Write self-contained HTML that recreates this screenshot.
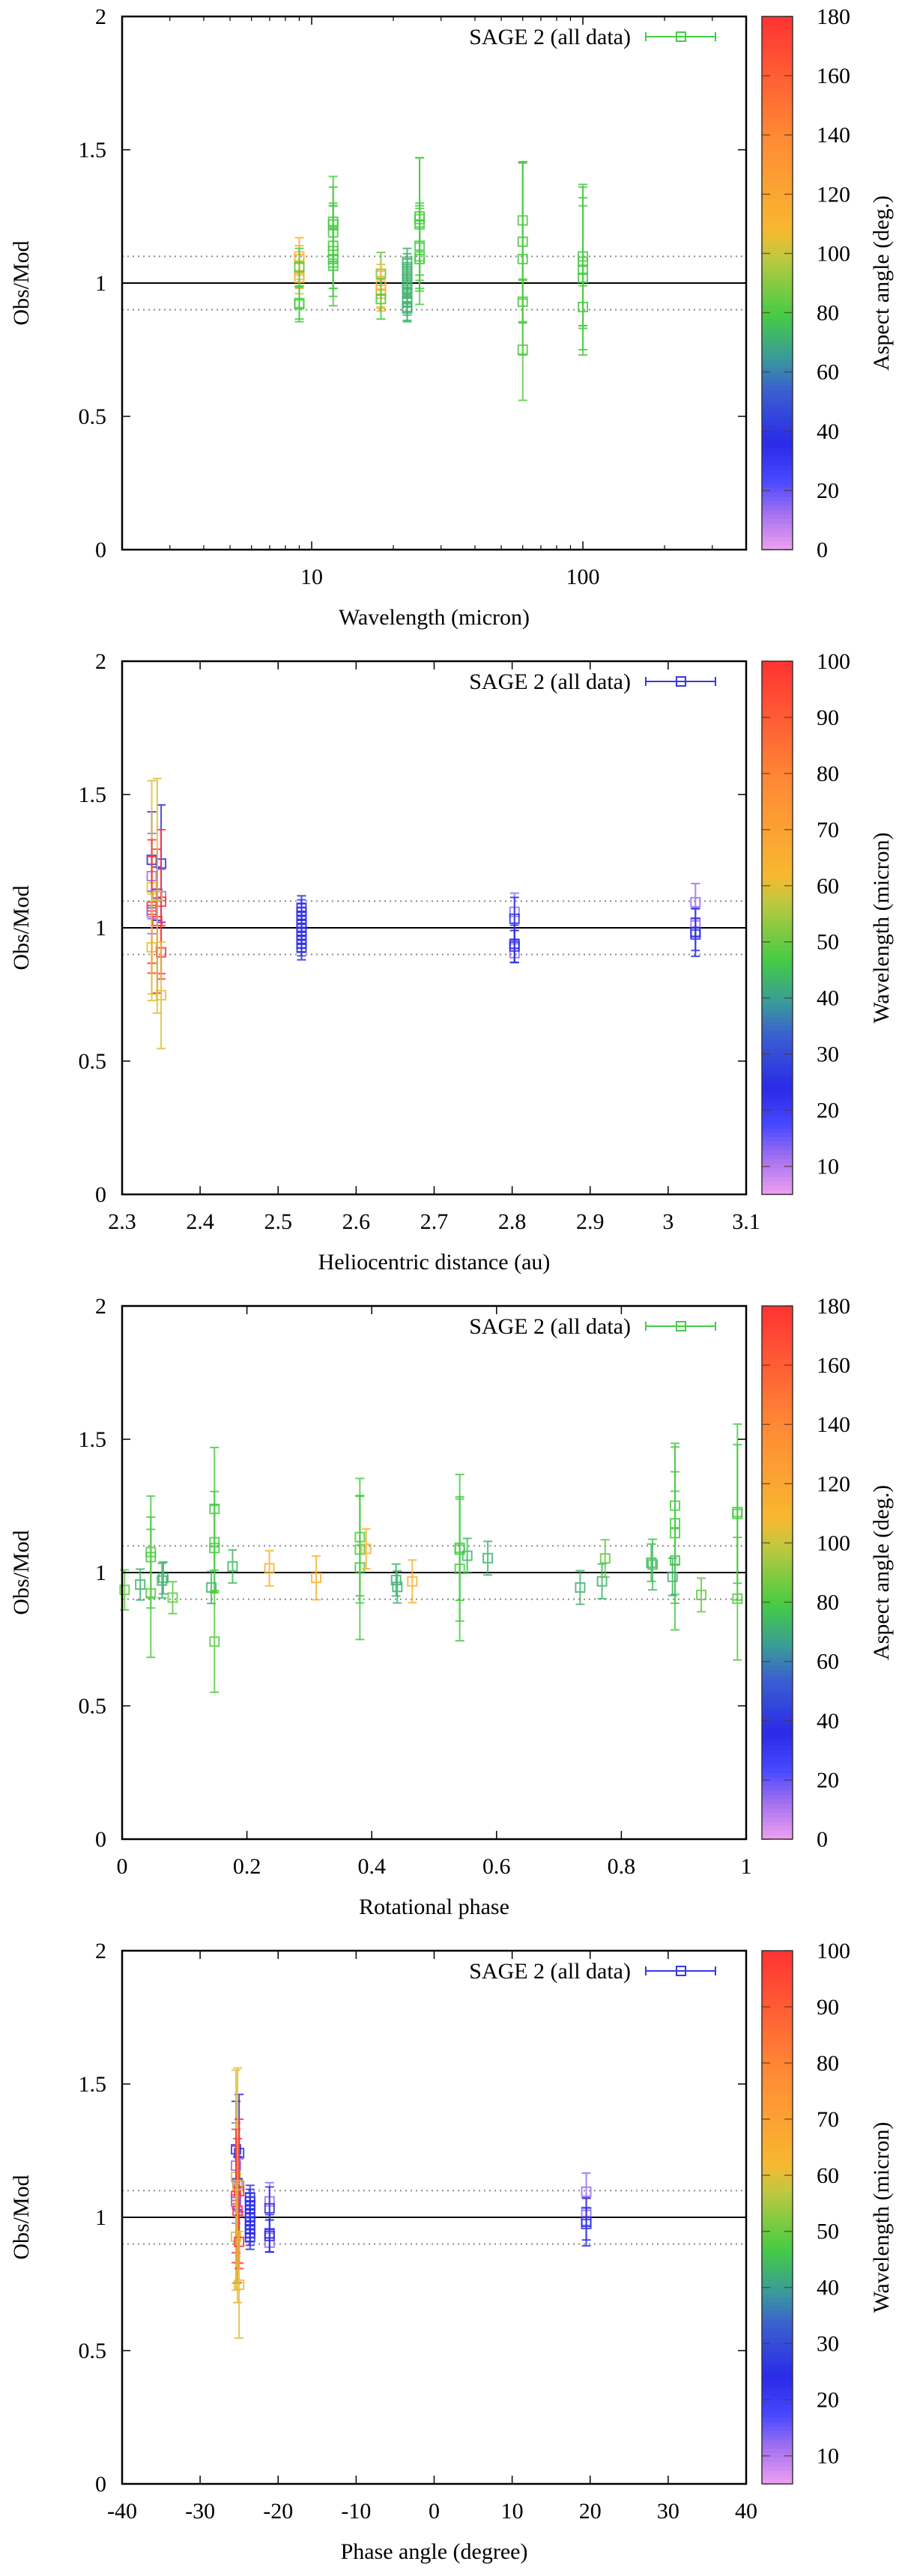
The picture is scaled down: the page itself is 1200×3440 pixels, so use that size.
<!DOCTYPE html>
<html><head><meta charset="utf-8">
<style>
html,body{margin:0;padding:0;background:#fff;}
svg{display:block;font-family:"Liberation Serif","DejaVu Serif",serif;}
svg text{font-family:"Liberation Serif","DejaVu Serif",serif;}
</style></head>
<body>
<svg id="fig" width="1200" height="3440" viewBox="0 0 1200 3440" xmlns="http://www.w3.org/2000/svg"></svg>
<script>
// ---------- Panel 1: wavelength vs obs/mod, colour = aspect angle ----------
const p1Wave  = [9,9,9,9,9,9,9, 12,12,12,12,12,12,12, 18,18,18,18,18, 22.5,22.5,22.5,22.5,22.5,22.5,22.5,22.5,22.5,22.5, 25,25,25,25,25,25, 60,60,60,60,60, 100,100,100,100,100];
const p1Ratio = [1.10,1.09,1.02,1.03,1.06,0.92,0.925, 1.23,1.22,1.19,1.14,1.12,1.09,1.065, 1.035,0.99,0.975,0.96,0.94, 1.08,1.06,1.04,1.02,1.00,0.98,0.96,0.93,0.91,0.905, 1.25,1.24,1.22,1.14,1.10,1.09, 1.235,1.155,1.09,0.93,0.75, 1.10,1.08,1.05,1.02,0.91];
const p1Err   = [0.07,0.05,0.06,0.05,0.07,0.065,0.06, 0.17,0.14,0.10,0.16,0.17,0.11,0.15, 0.08,0.08,0.07,0.065,0.075, 0.05,0.05,0.05,0.05,0.05,0.05,0.05,0.05,0.05,0.05, 0.22,0.23,0.07,0.16,0.18,0.12, 0.22,0.30,0.36,0.08,0.19, 0.26,0.24,0.32,0.27,0.08];
const p1Aspect= [112,112,112,112,80,80,80, 80,80,80,80,80,80,80, 85,112,112,112,80, 72,72,72,72,72,72,72,72,72,72, 80,80,80,80,80,80, 82,80,80,80,82, 80,80,80,80,80];

// ---------- Panels 2 & 4: heliocentric distance / phase angle, colour = wavelength ----------
const p2Helio = [2.338,2.35,2.338,2.338,2.345,2.35,2.35,2.338,2.338,2.338,2.345,2.338,2.35,2.345,2.35,
                 2.53,2.53,2.53,2.53,2.53,2.53,2.53,2.53,2.53,2.53,2.53,
                 2.803,2.803,2.803,2.803,2.803, 3.035,3.035,3.035,3.035];
const p4Phase = [-25.4,-25.0,-25.4,-25.4,-25.2,-25.0,-25.0,-25.4,-25.4,-25.4,-25.2,-25.4,-25.0,-25.2,-25.0,
                 -23.6,-23.6,-23.6,-23.6,-23.6,-23.6,-23.6,-23.6,-23.6,-23.6,-23.6,
                 -21.1,-21.1,-21.1,-21.1,-21.1, 19.5,19.5,19.5,19.5];
const p2Ratio = [1.255,1.241,1.194,1.152,1.128,1.119,1.098,1.08,1.067,1.058,1.025,0.927,0.908,1.12,0.747,
                 1.075,1.06,1.045,1.03,1.015,1.0,0.985,0.97,0.955,0.94,0.925,
                 1.06,0.905,1.034,0.94,0.93, 1.096,1.02,0.983,0.975];
const p2Err   = [0.18,0.22,0.16,0.40,0.10,0.10,0.27,0.25,0.20,0.08,0.27,0.20,0.10,0.44,0.20,
                 0.045,0.045,0.045,0.045,0.045,0.045,0.045,0.045,0.045,0.045,0.045,
                 0.07,0.035,0.08,0.07,0.06, 0.07,0.05,0.09,0.06];
const p2Wave  = [25,25,12,60,25,12,100,100,100,12,100,60,100,60,60,
                 25,22,25,22,25,22,25,22,25,22,25,
                 12,12,25,25,25, 12,12,25,25];

// ---------- Panel 3: rotational phase, colour = aspect angle ----------
const p3Phase = [0.004,0.029,0.046,0.046,0.046,0.064,0.066,0.081,0.143,0.148,0.148,0.148,0.148,0.177,0.236,0.311,0.381,0.381,0.381,0.391,0.439,0.441,0.465,
                 0.541,0.541,0.541,0.553,0.586,0.734,0.769,0.774,0.848,0.850,0.886,0.886,0.886,0.886,0.882,0.928,0.986,0.986,0.986];
const p3Ratio = [0.935,0.955,1.077,1.058,0.922,0.97,0.98,0.906,0.944,1.239,1.114,1.092,0.741,1.023,1.016,0.98,1.133,1.086,1.019,1.089,0.972,0.946,0.967,
                 1.093,1.086,1.014,1.063,1.054,0.944,0.967,1.053,1.037,1.03,1.251,1.185,1.148,1.045,0.984,0.916,1.227,1.22,0.902];
const p3Err   = [0.075,0.058,0.21,0.15,0.24,0.065,0.06,0.06,0.06,0.23,0.19,0.16,0.19,0.062,0.066,0.082,0.22,0.20,0.27,0.075,0.06,0.06,0.08,
                 0.275,0.19,0.27,0.065,0.063,0.063,0.065,0.07,0.07,0.095,0.22,0.30,0.23,0.26,0.07,0.063,0.33,0.26,0.23];
const p3Aspect= [84,72,80,80,82,72,72,84,72,80,80,80,82,74,112,112,80,80,80,112,72,72,112,
                 80,80,80,74,72,72,72,84,74,76,80,80,80,80,72,84,80,80,82];

// ---------- Tick label arrays ----------
const yTicks = [0,0.5,1,1.5,2];
const yTickLabels = ["0","0.5","1","1.5","2"];
const p1XTicks = [10,100];
const p2XTicks = [2.3,2.4,2.5,2.6,2.7,2.8,2.9,3,3.1];
const p3XTicks = [0,0.2,0.4,0.6,0.8,1];
const p4XTicks = [-40,-30,-20,-10,0,10,20,30,40];
const aspectTicks = [0,20,40,60,80,100,120,140,160,180];
const waveTicks = [10,20,30,40,50,60,70,80,90,100];

// ---------- drawing ----------
const NS = "http://www.w3.org/2000/svg";
const FONT = '"Liberation Serif","DejaVu Serif",serif';
const svg = document.getElementById("fig");
const L = 163, R = 996, H = 712, CBX = 1017, CBW = 41;
const tops = [22, 883, 1744, 2605];

const stops = [[0,[240,160,240]],[0.07,[160,112,240]],[0.13,[72,72,255]],[0.2,[42,42,232]],[0.3,[58,96,208]],[0.36,[58,154,154]],[0.44,[68,204,68]],[0.55,[192,200,64]],[0.6,[248,184,48]],[0.78,[255,136,53]],[1,[255,51,51]]];
function pal(t){
  t = Math.max(0, Math.min(1, t));
  for (let i = 1; i < stops.length; i++) {
    if (t <= stops[i][0]) {
      const a = stops[i-1], b = stops[i], f = (t - a[0]) / (b[0] - a[0]);
      const c = a[1].map((v, k) => Math.round(v + (b[1][k] - v) * f));
      return "rgb(" + c.join(",") + ")";
    }
  }
  return "rgb(255,51,51)";
}
function mk(tag, attrs, parent){
  const e = document.createElementNS(NS, tag);
  for (const k in attrs) e.setAttribute(k, attrs[k]);
  (parent || svg).appendChild(e);
  return e;
}
function txt(s, attrs, parent){ attrs["font-family"] = FONT; const e = mk("text", attrs, parent); e.textContent = s; return e; }

function panel(idx, cfg){
  const top = tops[idx], bot = top + H;
  const g = mk("g", {});
  
  
  const yS = v => bot - v / 2 * H;
  const xS = cfg.xScale;
  const ref = mk("g", {}, g);
  
  
  [0.9, 1.1].forEach(v => mk("line", {x1:L, x2:R, y1:yS(v), y2:yS(v), stroke:"#8a8a8a", "stroke-width":2, "stroke-dasharray":"2,5"}, ref));
  mk("line", {x1:L, x2:R, y1:yS(1), y2:yS(1), stroke:"#000", "stroke-width":2}, ref);
  const dg = mk("g", {}, g);
  
  
  for (let i = 0; i < cfg.xs.length; i++) {
    const col = pal(cfg.cs[i]);
    const x = xS(cfg.xs[i]), y = yS(cfg.ys[i]), y1 = yS(cfg.ys[i] + cfg.es[i]), y2 = yS(cfg.ys[i] - cfg.es[i]);
    const pg = mk("g", {stroke:col, fill:"none", "stroke-width":2, opacity:0.85}, dg);
    
    
    mk("line", {x1:x, x2:x, y1:y1, y2:y2}, pg);
    mk("line", {x1:x-6, x2:x+6, y1:y1, y2:y1}, pg);
    mk("line", {x1:x-6, x2:x+6, y1:y2, y2:y2}, pg);
    mk("rect", {x:x-6, y:y-6, width:12, height:12}, pg);
  }
  const fr = mk("rect", {x:L, y:top, width:R-L, height:H, fill:"none", stroke:"#000", "stroke-width":2.5}, g);
  
  
  yTicks.forEach((v, i) => {
    mk("line", {x1:L, x2:L+11, y1:yS(v), y2:yS(v), stroke:"#000", "stroke-width":1.5}, g);
    mk("line", {x1:R, x2:R-11, y1:yS(v), y2:yS(v), stroke:"#000", "stroke-width":1.5}, g);
    const t = txt(yTickLabels[i], {x:142, y:yS(v)+10, "font-size":30, "text-anchor":"end", fill:"#000"}, g);
    
    
  });
  cfg.xTicks.forEach(v => {
    const x = xS(v);
    mk("line", {x1:x, x2:x, y1:bot, y2:bot-11, stroke:"#000", "stroke-width":1.5}, g);
    mk("line", {x1:x, x2:x, y1:top, y2:top+11, stroke:"#000", "stroke-width":1.5}, g);
    const t = txt(cfg.fmt(v), {x:x, y:bot+46, "font-size":30, "text-anchor":"middle", fill:"#000"}, g);
    
    
  });
  (cfg.minor || []).forEach(v => {
    const x = xS(v);
    mk("line", {x1:x, x2:x, y1:bot, y2:bot-6, stroke:"#000", "stroke-width":1.2}, g);
    mk("line", {x1:x, x2:x, y1:top, y2:top+6, stroke:"#000", "stroke-width":1.2}, g);
  });
  const xt = txt(cfg.xTitle, {x:(L+R)/2, y:bot+100, "font-size":30, "text-anchor":"middle", fill:"#000"}, g);
  
  
  const yt = txt("Obs/Mod", {transform:"translate(38," + (top+H/2) + ") rotate(-90)", "font-size":30, "text-anchor":"middle", fill:"#000"}, g);
  
  
  const lg = mk("g", {}, g);
  
  
  txt("SAGE 2 (all data)", {x:842, y:top+37, "font-size":30, "text-anchor":"end", fill:"#000"}, lg);
  const ly = top + 27;
  mk("line", {x1:862, x2:955, y1:ly, y2:ly, stroke:cfg.legendColor, "stroke-width":2}, lg);
  mk("line", {x1:862, x2:862, y1:ly-6, y2:ly+6, stroke:cfg.legendColor, "stroke-width":2}, lg);
  mk("line", {x1:955, x2:955, y1:ly-6, y2:ly+6, stroke:cfg.legendColor, "stroke-width":2}, lg);
  mk("rect", {x:903, y:ly-6, width:12, height:12, fill:"none", stroke:cfg.legendColor, "stroke-width":2}, lg);
  const cb = mk("g", {}, g);
  
  
  const n = 120;
  for (let k = 0; k < n; k++) {
    const t0 = (k + 0.5) / n;
    mk("rect", {x:CBX, y:bot - (k+1)*H/n, width:CBW, height:H/n + 0.6, fill:pal(t0), stroke:"none"}, cb);
  }
  mk("rect", {x:CBX, y:top, width:CBW, height:H, fill:"none", stroke:"#333", "stroke-width":1.5}, cb);
  cfg.cbTicks.forEach(v => {
    const y = bot - (v - cfg.cbMin) / (cfg.cbMax - cfg.cbMin) * H;
    mk("line", {x1:CBX, x2:CBX+11, y1:y, y2:y, stroke:"#553322", "stroke-width":1.5, opacity:0.7}, cb);
    mk("line", {x1:CBX+CBW, x2:CBX+CBW-11, y1:y, y2:y, stroke:"#553322", "stroke-width":1.5, opacity:0.7}, cb);
    const t = txt(String(v), {x:1090, y:y+10, "font-size":30, fill:"#000"}, cb);
    
    
  });
  const ct = txt(cfg.cbTitle, {transform:"translate(1186," + (top+H/2) + ") rotate(-90)", "font-size":30, "text-anchor":"middle", fill:"#000"}, cb);
  
  
}

const lmin = Math.log10(2), lmax = Math.log10(400);
const minor1 = [2,3,4,5,6,7,8,9,20,30,40,50,60,70,80,90,200,300,400];
panel(0, {name:"wavelength-panel", xs:p1Wave, ys:p1Ratio, es:p1Err, cs:p1Aspect.map(a => a/180),
  xScale: v => L + (Math.log10(v) - lmin) / (lmax - lmin) * (R - L),
  xTicks:p1XTicks, minor:minor1, fmt:v => String(v), xTitle:"Wavelength (micron)",
  legendColor:"#44cc44", cbTicks:aspectTicks, cbMin:0, cbMax:180, cbTitle:"Aspect angle (deg.)"});
panel(1, {name:"heliocentric-panel", xs:p2Helio, ys:p2Ratio, es:p2Err, cs:p2Wave.map(w => (w-5)/95),
  xScale: v => L + (v - 2.3) / 0.8 * (R - L),
  xTicks:p2XTicks, fmt:v => (Math.round(v*10)/10).toFixed(1).replace(/^3\.0$/, "3"), xTitle:"Heliocentric distance (au)",
  legendColor:"#3838e0", cbTicks:waveTicks, cbMin:5, cbMax:100, cbTitle:"Wavelength (micron)"});
panel(2, {name:"rotational-phase-panel", xs:p3Phase, ys:p3Ratio, es:p3Err, cs:p3Aspect.map(a => a/180),
  xScale: v => L + v * (R - L),
  xTicks:p3XTicks, fmt:v => String(v), xTitle:"Rotational phase",
  legendColor:"#44cc44", cbTicks:aspectTicks, cbMin:0, cbMax:180, cbTitle:"Aspect angle (deg.)"});
panel(3, {name:"phase-angle-panel", xs:p4Phase, ys:p2Ratio, es:p2Err, cs:p2Wave.map(w => (w-5)/95),
  xScale: v => L + (v + 40) / 80 * (R - L),
  xTicks:p4XTicks, fmt:v => String(v), xTitle:"Phase angle (degree)",
  legendColor:"#3838e0", cbTicks:waveTicks, cbMin:5, cbMax:100, cbTitle:"Wavelength (micron)"});
</script>
</body></html>
